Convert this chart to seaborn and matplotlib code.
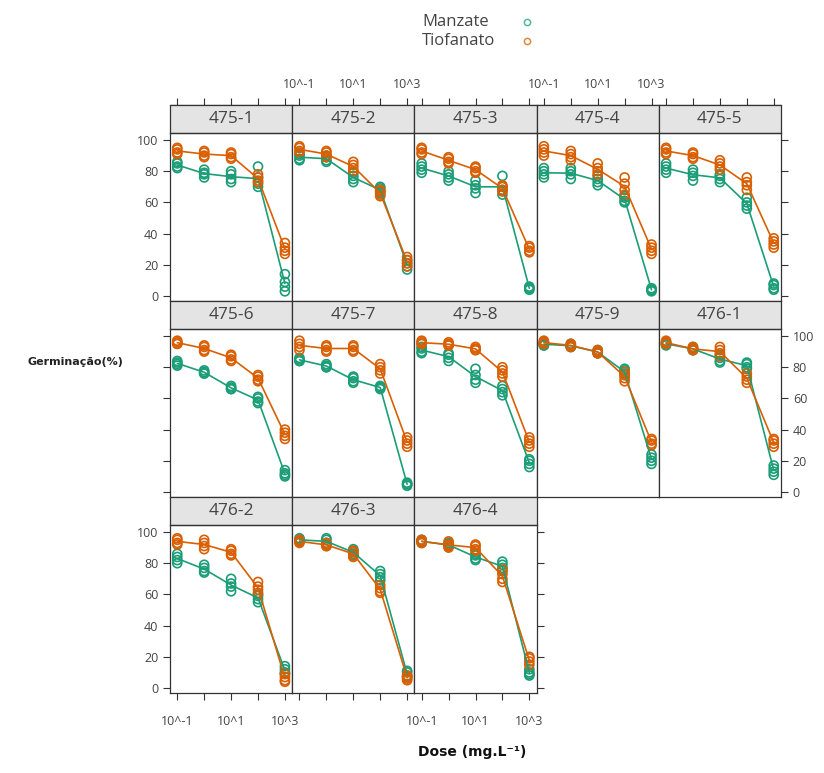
import matplotlib
matplotlib.use("Agg")
import matplotlib.pyplot as plt
from matplotlib.lines import Line2D
from matplotlib.patches import Rectangle
from matplotlib.ticker import NullLocator
import seaborn as sns
import pandas as pd

# doses (mg/L) and isolates, in panel order
doses = [0.1, 1, 10, 100, 1000]
isolados = ["475-1", "475-2", "475-3", "475-4", "475-5",
            "475-6", "475-7", "475-8", "475-9", "476-1",
            "476-2", "476-3", "476-4"]

# germination (%) replicates per dose
manzate = {
    "475-1": [[86, 85, 83, 82], [81, 79, 78, 76], [80, 78, 75, 73], [83, 76, 72, 70], [14, 9, 6, 3]],
    "475-2": [[91, 90, 88, 87], [90, 89, 87, 86], [79, 77, 75, 73], [70, 69, 67, 66], [23, 21, 19, 17]],
    "475-3": [[85, 83, 81, 79], [80, 78, 76, 74], [74, 71, 69, 66], [77, 70, 68, 65], [6, 5, 4, 5]],
    "475-4": [[82, 80, 78, 76], [82, 80, 78, 75], [77, 75, 73, 71], [64, 63, 61, 60], [5, 4, 3, 4]],
    "475-5": [[85, 83, 81, 79], [81, 79, 77, 74], [78, 77, 75, 73], [63, 60, 58, 56], [8, 7, 5, 4]],
    "475-6": [[84, 83, 82, 81], [78, 77, 76, 76], [68, 67, 66, 66], [61, 60, 58, 57], [14, 12, 11, 10]],
    "475-7": [[86, 85, 84, 84], [82, 81, 80, 80], [74, 73, 71, 70], [68, 67, 67, 66], [6, 5, 5, 4]],
    "475-8": [[93, 92, 90, 89], [89, 88, 86, 84], [79, 75, 72, 70], [68, 66, 64, 62], [21, 20, 18, 16]],
    "475-9": [[96, 95, 94, 94], [95, 94, 93, 93], [91, 90, 89, 89], [79, 78, 76, 75], [24, 22, 20, 18]],
    "476-1": [[96, 95, 95, 94], [93, 92, 91, 91], [88, 86, 84, 83], [83, 82, 80, 79], [17, 15, 13, 11]],
    "476-2": [[86, 84, 82, 80], [79, 77, 75, 74], [70, 67, 65, 62], [60, 59, 57, 55], [14, 12, 10, 9]],
    "476-3": [[96, 95, 95, 94], [96, 95, 93, 92], [89, 88, 86, 85], [75, 73, 71, 69], [11, 10, 8, 7]],
    "476-4": [[95, 94, 94, 93], [93, 92, 91, 91], [86, 85, 83, 82], [81, 79, 77, 75], [12, 10, 9, 8]],
}
tiofanato = {
    "475-1": [[95, 94, 92, 91], [93, 92, 90, 89], [92, 91, 89, 88], [78, 76, 74, 73], [34, 31, 29, 27]],
    "475-2": [[96, 95, 93, 92], [93, 92, 90, 89], [86, 84, 82, 80], [68, 67, 65, 64], [25, 23, 21, 19]],
    "475-3": [[95, 94, 92, 91], [89, 88, 86, 85], [83, 82, 80, 79], [71, 70, 68, 67], [32, 31, 29, 28]],
    "475-4": [[96, 94, 92, 90], [93, 91, 89, 87], [85, 82, 80, 78], [76, 72, 68, 65], [33, 31, 29, 27]],
    "475-5": [[95, 94, 92, 91], [92, 91, 89, 88], [87, 85, 83, 81], [76, 73, 71, 68], [37, 35, 33, 31]],
    "475-6": [[97, 96, 95, 95], [94, 93, 91, 90], [88, 87, 85, 84], [75, 74, 72, 71], [40, 38, 36, 34]],
    "475-7": [[97, 95, 93, 91], [94, 93, 91, 90], [94, 93, 91, 90], [82, 80, 78, 76], [35, 33, 31, 29]],
    "475-8": [[97, 96, 95, 95], [96, 95, 94, 94], [93, 92, 91, 91], [80, 78, 76, 74], [35, 33, 31, 29]],
    "475-9": [[97, 96, 95, 95], [95, 94, 94, 93], [91, 90, 89, 89], [77, 75, 73, 71], [34, 33, 31, 30]],
    "476-1": [[97, 96, 95, 95], [93, 92, 91, 91], [93, 91, 89, 87], [76, 74, 72, 70], [34, 33, 31, 29]],
    "476-2": [[96, 95, 93, 92], [95, 93, 91, 89], [89, 88, 86, 85], [68, 65, 63, 61], [9, 7, 5, 4]],
    "476-3": [[95, 94, 94, 93], [93, 92, 91, 91], [88, 87, 85, 84], [66, 64, 62, 61], [8, 7, 6, 5]],
    "476-4": [[95, 94, 94, 93], [94, 92, 91, 90], [92, 91, 89, 88], [76, 73, 70, 68], [20, 19, 17, 15]],
}

tick_vals = [0.1, 1, 10, 100, 1000]
tick_text = ["10^-1", "", "10^1", "", "10^3"]
cores = {"Manzate": "#1B9E77", "Tiofanato": "#D95F02"}

rows = []
for fung, tab in [("Manzate", manzate), ("Tiofanato", tiofanato)]:
    for iso in isolados:
        for d, reps in zip(doses, tab[iso]):
            for v in reps:
                rows.append({"Isolado": iso, "Fungicida": fung, "Dose": d, "Germ": v})
df = pd.DataFrame(rows)

sns.set_style("white")
plt.rcParams["font.family"] = ["Open Sans", "DejaVu Sans"]
dark = "#333333"
txt = "#444444"

g = sns.FacetGrid(df, col="Isolado", col_order=isolados, col_wrap=5,
                  sharex=False, sharey=False, despine=False, height=2, aspect=1)
g.figure.set_size_inches(8.24, 7.73)

strip_h = 28 / 168
for i, (ax, iso) in enumerate(zip(g.axes.flat, isolados)):
    sub = df[df["Isolado"] == iso]
    ax.set_xscale("log")
    sns.lineplot(data=sub, x="Dose", y="Germ", hue="Fungicida", palette=cores,
                 errorbar=None, linewidth=1.2, legend=False, ax=ax)
    sns.scatterplot(data=sub, x="Dose", y="Germ", hue="Fungicida", palette=cores,
                    s=42, linewidth=1.2, legend=False, ax=ax)
    for coll in ax.collections:
        fc = coll.get_facecolors()
        coll.set_edgecolors(fc)
        coll.set_facecolors("none")
    ax.set_xlim(10 ** -1.27, 10 ** 3.27)
    ax.set_ylim(-3.2, 104.5)
    ax.set_xlabel("")
    ax.set_ylabel("")
    ax.set_title("")
    for sp in ax.spines.values():
        sp.set_color(dark)
        sp.set_linewidth(0.9)

    # strip
    ax.add_patch(Rectangle((0, 1), 1, strip_h, transform=ax.transAxes,
                           facecolor="#E4E4E4", edgecolor=dark, lw=0.9, clip_on=False))
    ax.text(0.5, 1 + strip_h / 2, iso, transform=ax.transAxes, ha="center",
            va="center", fontsize=12.5, color=txt)

    r, c = divmod(i, 5)
    ax.set_xticks(tick_vals, labels=tick_text)
    ax.xaxis.set_minor_locator(NullLocator())
    ax.set_yticks([0, 20, 40, 60, 80, 100])
    ax.tick_params(axis="both", direction="out", length=5, width=0.8, color=dark,
                   labelsize=9, labelcolor=txt)
    ax.tick_params(axis="x", bottom=(r == 2), labelbottom=(r == 2 and c in (0, 2)),
                   top=False, labeltop=False, pad=11)
    last_in_row = (c == 4) or (i == len(isolados) - 1)
    ax.tick_params(axis="y", left=(c == 0), labelleft=(c == 0 and r != 1),
                   right=last_in_row, labelright=(last_in_row and r == 1))

    if r == 0:
        sec = ax.secondary_xaxis(1 + strip_h)
        sec.set_xticks(tick_vals, labels=tick_text if c in (1, 3) else [""] * 5)
        sec.xaxis.set_minor_locator(NullLocator())
        sec.tick_params(axis="x", direction="out", length=5, width=0.8, color=dark,
                        labelsize=9, labelcolor=txt, pad=5)
        for sp in sec.spines.values():
            sp.set_color(dark)
            sp.set_linewidth(0.9)

g.figure.subplots_adjust(left=170 / 824, right=781 / 824, top=1 - 133 / 773,
                         bottom=1 - 693 / 773, wspace=0, hspace=strip_h)

# key at the top: text left-aligned, markers to the right
fig = g.figure
for k, (nome, cor) in enumerate(cores.items()):
    y = 1 - (22 + 19 * k) / 773
    fig.text(422 / 824, y, nome, ha="left", va="center", fontsize=12, color=txt)
    fig.add_artist(Line2D([527 / 824], [y], transform=fig.transFigure, ls="none",
                          marker="o", markersize=4.5, markerfacecolor="none",
                          markeredgecolor=cor, markeredgewidth=1.1, alpha=0.75))

fig.text(75 / 824, 1 - 362 / 773, "Germinação(%)", ha="center", va="center",
         fontsize=8, fontweight="bold", color="#222222", family="DejaVu Sans")
fig.text(472 / 824, 1 - 752 / 773, "Dose (mg.L⁻¹)", ha="center", va="center",
         fontsize=10, fontweight="bold", color="#111111", family="DejaVu Sans")

fig.savefig("out.png", dpi=100)
